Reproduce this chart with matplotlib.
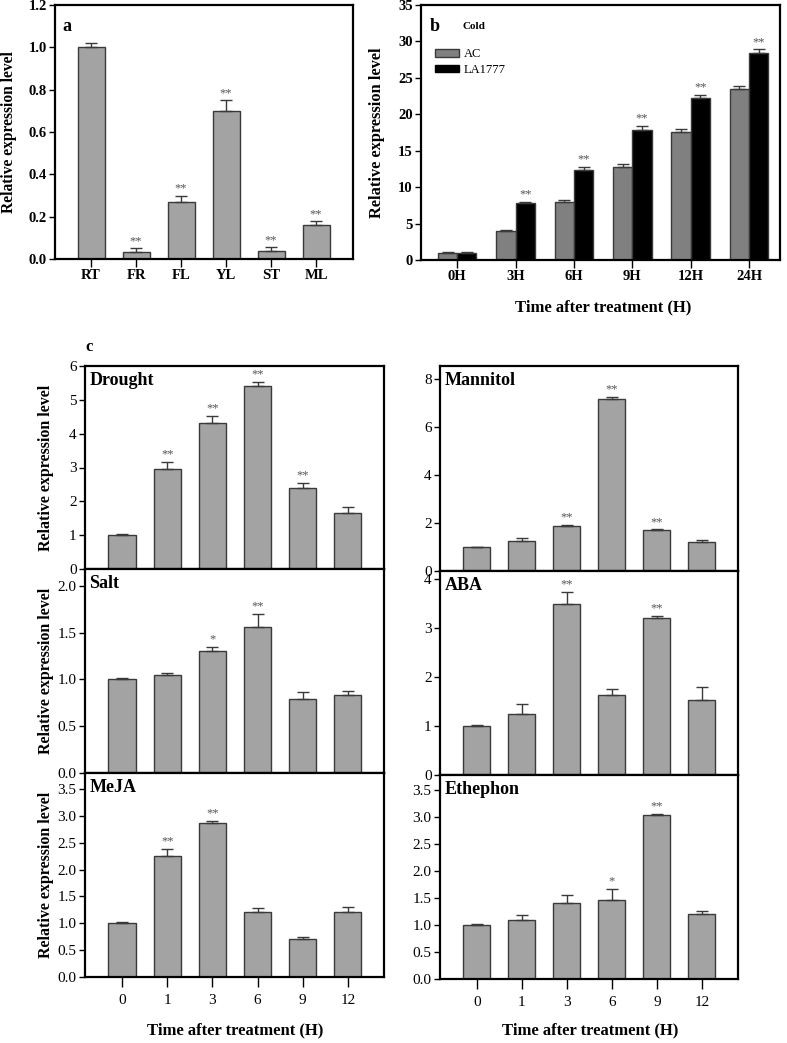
import numpy as np
import matplotlib
matplotlib.use("Agg")
import matplotlib.pyplot as plt
from matplotlib.patches import Patch

plt.rcParams['font.family'] = ['Liberation Serif', 'DejaVu Serif']

# ---- data ----
tissues = ['RT', 'FR', 'FL', 'YL', 'ST', 'ML']
tissue_val = [1.0, 0.035, 0.27, 0.70, 0.037, 0.16]
tissue_err = [0.02, 0.015, 0.03, 0.05, 0.018, 0.018]
tissue_sig = ['', '**', '**', '**', '**', '**']

cold_times = ['0H', '3H', '6H', '9H', '12H', '24H']
cold_ac = [1.0, 4.0, 8.0, 12.8, 17.6, 23.5]
cold_ac_err = [0.1, 0.1, 0.3, 0.4, 0.35, 0.4]
cold_la = [1.0, 7.8, 12.3, 17.9, 22.3, 28.4]
cold_la_err = [0.05, 0.2, 0.5, 0.5, 0.4, 0.5]
cold_sig = ['', '**', '**', '**', '**', '**']

stress_times = ['0', '1', '3', '6', '9', '12']

drought = [1.0, 2.95, 4.33, 5.42, 2.38, 1.65]
drought_err = [0.02, 0.22, 0.2, 0.12, 0.15, 0.18]
drought_sig = ['', '**', '**', '**', '**', '']

salt = [1.0, 1.05, 1.30, 1.56, 0.79, 0.83]
salt_err = [0.02, 0.02, 0.05, 0.14, 0.08, 0.05]
salt_sig = ['', '', '*', '**', '', '']

meja = [1.0, 2.26, 2.87, 1.21, 0.70, 1.21]
meja_err = [0.02, 0.13, 0.04, 0.07, 0.04, 0.10]
meja_sig = ['', '**', '**', '', '', '']

mannitol = [1.0, 1.27, 1.87, 7.18, 1.70, 1.22]
mannitol_err = [0.02, 0.12, 0.04, 0.08, 0.03, 0.08]
mannitol_sig = ['', '', '**', '**', '**', '']

aba = [1.0, 1.24, 3.48, 1.64, 3.21, 1.53]
aba_err = [0.02, 0.21, 0.26, 0.12, 0.04, 0.26]
aba_sig = ['', '', '**', '', '**', '']

ethephon = [1.0, 1.10, 1.40, 1.47, 3.04, 1.20]
ethephon_err = [0.02, 0.08, 0.15, 0.20, 0.02, 0.06]
ethephon_sig = ['', '', '', '*', '**', '']

W, H = 787, 1043
fig = plt.figure(figsize=(W / 100, H / 100), dpi=100)

BAR = '#a3a3a3'
EDGE = '#3a3a3a'
STAR = '#555555'


def rect(l, t, r, b):
    return [l / W, 1 - b / H, (r - l) / W, (b - t) / H]


def style(ax, bold, xlen=5.5, xpad=2):
    for s in ax.spines.values():
        s.set_linewidth(1.6)
    ax.tick_params(axis='y', direction='out', length=4, width=1, pad=2,
                   labelsize=10.5 if bold else 11)
    ax.tick_params(axis='x', direction='out', length=xlen, width=1, pad=xpad,
                   labelsize=10.5 if bold else 11)
    if bold:
        for lb in ax.get_yticklabels() + ax.get_xticklabels():
            lb.set_fontweight('bold')


def bars(ax, x, vals, errs, sigs, width, color, off):
    ax.bar(x, vals, width, color=color, edgecolor=EDGE, linewidth=1, zorder=2)
    ax.errorbar(x, vals, yerr=[np.zeros(len(vals)), errs], fmt='none',
                ecolor=EDGE, elinewidth=1, capsize=4, capthick=1, zorder=3)
    for xi, v, e, s in zip(x, vals, errs, sigs):
        if s:
            ax.text(xi, v + e + off, s, ha='center', va='bottom',
                    fontsize=9, color=STAR)


# ---- panel a ----
ax = fig.add_axes(rect(55, 5, 353, 259))
x = np.arange(len(tissues))
bars(ax, x, tissue_val, tissue_err, tissue_sig, 0.6, BAR, 0.005)
ax.set_xlim(-0.8, 5.82)
ax.set_ylim(0, 1.2)
ax.set_yticks(np.arange(0, 1.21, 0.2))
ax.set_yticklabels(['%.1f' % v for v in np.arange(0, 1.21, 0.2)])
ax.set_xticks(x)
ax.set_xticklabels(tissues)
style(ax, True)
ax.set_ylabel('Relative expression level', fontsize=11.2, fontweight='bold')
ax.yaxis.set_label_coords(-0.128, 0.5)
ax.text(0.025, 0.95, 'a', transform=ax.transAxes, fontsize=13,
        fontweight='bold', va='top')

# ---- panel b ----
ax = fig.add_axes(rect(421, 5, 780, 260))
x = np.arange(len(cold_times))
bw = 0.33
bars(ax, x - bw / 2, cold_ac, cold_ac_err, [''] * 6, bw, '#808080', 0.2)
bars(ax, x + bw / 2, cold_la, cold_la_err, cold_sig, bw, 'black', 0.2)
ax.set_xlim(-0.62, 5.53)
ax.set_ylim(0, 35)
ax.set_yticks(range(0, 36, 5))
ax.set_xticks(x)
ax.set_xticklabels(cold_times)
style(ax, True)
ax.set_ylabel('Relative expression level', fontsize=11.8, fontweight='bold')
ax.yaxis.set_label_coords(-0.100, 0.5)
ax.text(0.025, 0.95, 'b', transform=ax.transAxes, fontsize=13,
        fontweight='bold', va='top')
ax.text(0.115, 0.935, 'Cold', transform=ax.transAxes, fontsize=8,
        fontweight='bold', va='top')
handles = [Patch(facecolor='#808080', edgecolor=EDGE, label='AC'),
           Patch(facecolor='black', edgecolor='black', label='LA1777')]
ax.legend(handles=handles, loc='upper left', bbox_to_anchor=(0.04, 0.83),
          frameon=False, fontsize=9, handlelength=1.9, handleheight=0.55,
          borderpad=0, borderaxespad=0, labelspacing=0.3, handletextpad=0.4)
fig.text(603 / W, 1 - 307 / H, 'Time after treatment (H)', ha='center',
         va='center', fontsize=12, fontweight='bold')

# ---- panel c ----
fig.text(89 / W, 1 - 347 / H, 'c', ha='center', va='center', fontsize=12,
         fontweight='bold')

left_panels = [
    ('Drought', drought, drought_err, drought_sig, 6, [0, 1, 2, 3, 4, 5, 6], '%d', (366, 569)),
    ('Salt', salt, salt_err, salt_sig, 2.18, [0, 0.5, 1.0, 1.5, 2.0], '%.1f', (569, 773)),
    ('MeJA', meja, meja_err, meja_sig, 3.8, [0, 0.5, 1.0, 1.5, 2.0, 2.5, 3.0, 3.5], '%.1f', (773, 977)),
]
right_panels = [
    ('Mannitol', mannitol, mannitol_err, mannitol_sig, 8.54, [0, 2, 4, 6, 8], '%d', (366, 571)),
    ('ABA', aba, aba_err, aba_sig, 4.16, [0, 1, 2, 3, 4], '%d', (571, 775)),
    ('Ethephon', ethephon, ethephon_err, ethephon_sig, 3.78, [0, 0.5, 1.0, 1.5, 2.0, 2.5, 3.0, 3.5], '%.1f', (775, 979)),
]

for col, (l, r, panels) in enumerate([(85, 384, left_panels), (440, 738, right_panels)]):
    for i, (name, vals, errs, sigs, top, ticks, fmt, (t, b)) in enumerate(panels):
        ax = fig.add_axes(rect(l, t, r, b))
        x = np.arange(len(stress_times))
        bars(ax, x, vals, errs, sigs, 0.6, BAR, top * 0.008)
        ax.set_xlim(-0.82, 5.8)
        ax.set_ylim(0, top)
        ax.set_yticks(ticks)
        ax.set_yticklabels([fmt % v for v in ticks])
        style(ax, False, xlen=7, xpad=5)
        if i == len(panels) - 1:
            ax.set_xticks(x)
            ax.set_xticklabels(stress_times)
        else:
            ax.set_xticks([])
        ax.text(0.015, 0.97, name, transform=ax.transAxes, fontsize=13,
                fontweight='bold', va='top')
        if col == 0:
            ax.set_ylabel('Relative expression level', fontsize=11.5,
                          fontweight='bold')
            ax.yaxis.set_label_coords(-0.104, 0.5)

fig.text(235 / W, 1 - 1030 / H, 'Time after treatment (H)', ha='center',
         va='center', fontsize=12, fontweight='bold')
fig.text(590 / W, 1 - 1030 / H, 'Time after treatment (H)', ha='center',
         va='center', fontsize=12, fontweight='bold')

fig.savefig('out.png', dpi=100)
